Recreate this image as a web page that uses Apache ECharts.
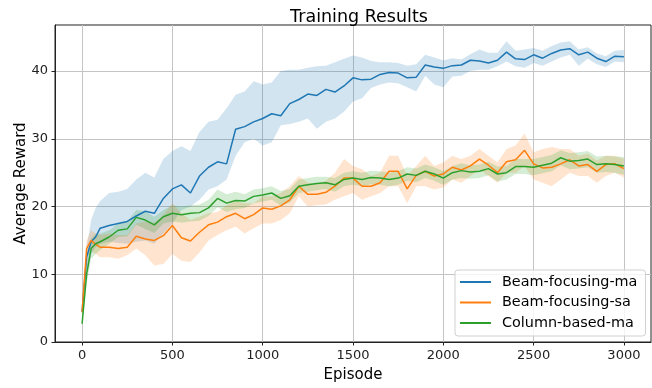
<!DOCTYPE html>
<html>
<head>
<meta charset="utf-8">
<script src="https://cdn.jsdelivr.net/npm/echarts@6/dist/echarts.min.js"></script>
<style>html,body{margin:0;padding:0;background:#fff;}#c{width:652px;height:388px;}</style>
</head>
<body>
<div id="c"></div>
<script>
const episodes = [0,25,50,75,100,150,200,250,300,350,400,450,500,550,600,650,700,750,800,850,900,950,1000,1050,1100,1150,1200,1250,1300,1350,1400,1450,1500,1550,1600,1650,1700,1750,1800,1850,1900,1950,2000,2050,2100,2150,2200,2250,2300,2350,2400,2450,2500,2550,2600,2650,2700,2750,2800,2850,2900,2950,3000];

const beamMaMean = [4.5,12.5,14.8,15.5,16.8,17.2,17.5,17.8,18.6,19.3,19.0,21.2,22.6,23.2,22.0,24.5,25.8,26.6,26.3,31.4,31.8,32.5,33.0,33.7,33.4,35.2,35.8,36.6,36.4,37.3,36.9,37.8,39.0,38.7,38.8,39.5,39.8,39.7,39.0,39.1,40.9,40.6,40.4,40.8,40.9,41.6,41.5,41.2,41.6,42.8,41.8,41.7,42.4,41.9,42.6,43.1,43.3,42.4,42.8,41.9,41.4,42.2,42.1];
const beamMaHigh = [4.8,14.0,18.0,19.8,20.8,22.0,22.2,22.6,24.0,25.0,24.3,27.0,28.2,28.9,28.2,31.0,32.5,32.8,34.5,36.5,37.0,38.5,38.0,38.3,40.0,40.2,40.2,40.5,40.7,40.8,41.3,41.8,42.3,42.0,41.5,41.3,41.3,41.2,40.8,41.0,42.4,42.0,41.6,41.9,41.7,42.5,43.2,42.7,42.7,44.4,43.0,43.2,43.4,43.0,43.7,44.2,44.4,43.2,43.5,42.6,42.2,43.0,43.1];
const beamMaLow = [4.2,10.5,13.0,14.0,14.5,14.8,14.6,14.5,14.8,15.0,14.5,16.0,17.5,19.5,20.0,21.0,22.5,23.0,24.0,27.5,29.5,30.0,29.0,29.5,32.0,32.2,32.5,33.0,31.5,32.5,33.0,34.0,35.5,36.0,37.5,38.0,38.3,38.2,37.6,37.0,39.3,38.0,37.6,39.2,39.3,40.0,40.2,40.2,40.7,41.4,40.7,40.5,41.2,40.8,41.4,42.0,42.4,40.8,41.8,41.0,40.6,41.4,41.3];

const beamSaMean = [4.4,13.8,15.0,14.4,14.0,14.0,13.8,14.0,15.6,15.2,15.0,15.7,17.2,15.4,14.9,16.2,17.3,17.7,18.5,19.0,18.2,18.8,19.8,19.6,20.1,21.0,23.0,21.8,21.8,22.1,23.0,24.2,24.2,23.0,23.0,23.5,25.2,25.2,22.6,24.6,25.2,24.5,24.8,25.8,25.4,26.0,27.0,26.1,25.0,26.6,26.9,28.3,26.3,25.7,25.8,26.3,26.9,26.0,26.2,25.2,26.2,26.3,25.6];
const beamSaHigh = [4.6,15.0,16.5,16.0,15.8,16.0,15.8,15.8,17.5,17.8,17.6,18.8,20.5,19.0,18.0,18.5,19.0,19.2,20.2,20.8,20.5,20.5,21.5,21.5,22.0,23.0,24.5,23.5,23.3,23.8,25.0,27.0,26.0,25.5,24.5,25.0,27.5,27.5,24.5,26.0,27.5,26.0,26.5,27.5,27.0,27.5,28.5,27.5,26.5,28.5,29.0,30.8,28.0,28.5,28.8,28.5,28.5,27.5,27.8,26.8,27.5,27.5,27.0];
const beamSaLow = [4.2,12.5,13.5,13.0,12.5,12.5,12.3,12.8,13.8,12.8,11.3,11.5,13.0,12.0,11.8,13.2,15.0,15.8,16.5,17.0,16.0,16.8,17.5,17.5,18.0,19.0,21.5,20.0,20.2,20.3,21.0,21.5,22.0,21.0,21.5,22.0,23.0,23.0,20.5,23.0,23.0,22.5,22.8,24.0,23.5,24.5,25.5,24.5,23.5,25.0,25.0,26.0,24.0,23.5,23.0,24.0,25.0,24.5,24.5,23.5,24.5,25.0,24.3];

const colMaMean = [2.7,10.0,13.8,14.5,14.8,15.5,16.5,16.7,18.4,18.0,17.3,18.5,19.0,18.8,19.0,19.1,19.8,21.2,20.5,20.9,20.8,21.5,21.7,22.0,21.2,21.6,23.0,23.2,23.4,23.5,23.2,24.0,24.2,24.0,24.3,24.2,24.0,24.2,24.8,24.6,25.2,24.8,24.2,25.0,25.3,25.1,25.2,25.6,24.8,25.0,25.9,25.9,25.8,26.1,26.4,27.2,26.7,26.8,27.0,26.2,26.3,26.2,26.0];
const colMaHigh = [2.9,11.5,15.3,16.0,16.0,16.5,17.5,17.8,19.5,19.3,18.5,19.5,20.2,20.0,20.2,20.3,21.0,22.5,21.8,22.2,21.8,22.5,22.7,23.0,22.3,22.6,24.0,24.2,24.4,24.4,24.2,25.0,25.2,25.0,25.3,25.2,25.0,25.2,25.8,25.6,26.2,25.8,25.2,26.0,26.4,26.1,26.2,26.6,25.9,26.0,27.0,27.0,27.0,27.3,27.6,28.3,27.9,28.0,28.2,27.4,27.5,27.4,27.3];
const colMaLow = [2.5,8.5,12.3,13.0,13.6,14.5,15.5,15.6,17.3,16.7,16.1,17.5,17.8,17.6,17.8,17.9,18.6,19.9,19.2,19.6,19.8,20.5,20.7,21.0,20.1,20.6,22.0,22.2,22.4,22.6,22.2,23.0,23.2,23.0,23.3,23.2,23.0,23.2,23.8,23.6,24.2,23.8,23.2,24.0,24.2,24.1,24.2,24.6,23.7,24.0,24.8,24.8,24.6,24.9,25.2,26.1,25.5,25.6,25.8,25.0,25.1,25.0,24.7];

const seriesNames = ['Beam-focusing-ma', 'Beam-focusing-sa', 'Column-based-ma'];
const xTicks = [0, 500, 1000, 1500, 2000, 2500, 3000];
const yTicks = [0, 10, 20, 30, 40];

const colors = ['#1f77b4', '#ff7f0e', '#2ca02c'];
const bandColors = ['rgba(31,119,180,0.2)', 'rgba(255,127,14,0.2)', 'rgba(44,160,44,0.2)'];
const FONT = 'DejaVu Sans';

function bandSeries(lo, hi, color) {
  return {
    type: 'custom',
    silent: true,
    clip: true,
    z: 1,
    data: episodes.map((e, i) => [e, lo[i], hi[i]]),
    encode: { x: 0, y: [1, 2] },
    renderItem: function (params, api) {
      if (params.dataIndex !== 0) return null;
      const pts = [];
      for (let i = 0; i < episodes.length; i++) pts.push(api.coord([episodes[i], hi[i]]));
      for (let i = episodes.length - 1; i >= 0; i--) pts.push(api.coord([episodes[i], lo[i]]));
      return { type: 'polygon', shape: { points: pts }, style: { fill: color, stroke: null } };
    }
  };
}

function lineSeries(name, vals, color) {
  return {
    name: name,
    type: 'line',
    data: episodes.map((e, i) => [e, vals[i]]),
    symbol: 'none',
    z: 3,
    lineStyle: { color: color, width: 1.5 },
    itemStyle: { color: color },
    animation: false
  };
}

const chart = echarts.init(document.getElementById('c'), null, { renderer: 'canvas' });
chart.setOption({
  animation: false,
  backgroundColor: '#fff',
  title: {
    text: 'Training Results',
    left: 354, top: 3, textAlign: 'center',
    textStyle: { fontFamily: FONT, fontSize: 17.5, fontWeight: 'normal', color: '#000' }
  },
  grid: { left: 55, right: 1, top: 25, bottom: 46, show: true, borderColor: '#222', borderWidth: 1, backgroundColor: 'transparent' },
  legend: {
    data: seriesNames,
    orient: 'vertical',
    left: 455, top: 270,
    padding: [4, 8, 5, 5],
    itemGap: 4.5,
    itemWidth: 31, itemHeight: 2,
    icon: 'rect',
    backgroundColor: 'rgba(255,255,255,0.8)',
    borderColor: '#d0d0d0', borderWidth: 1, borderRadius: 3,
    textStyle: { fontFamily: FONT, fontSize: 14.4, color: '#000', lineHeight: 16, padding: [0, 0, 0, 6] }
  },
  xAxis: {
    type: 'value', min: -150, max: 3150,
    name: 'Episode', nameLocation: 'middle', nameGap: 26,
    nameTextStyle: { fontFamily: FONT, fontSize: 15, color: '#000' },
    axisLine: { show: true, onZero: false, lineStyle: { color: '#222', width: 1 } },
    axisTick: { show: true, inside: false, length: 3.5, customValues: xTicks, lineStyle: { color: '#222' } },
    axisLabel: { customValues: xTicks, margin: 7, fontFamily: FONT, fontSize: 13, color: '#222', formatter: v => String(v) },
    splitLine: { show: true, lineStyle: { color: '#c4c4c4', width: 1 } }
  },
  yAxis: {
    type: 'value', min: 0, max: 46.8,
    name: 'Average Reward', nameLocation: 'middle', nameGap: 26, nameMoveOverlap: false,
    nameTextStyle: { fontFamily: FONT, fontSize: 15, color: '#000' },
    axisLine: { show: true, onZero: false, lineStyle: { color: '#222', width: 1 } },
    axisTick: { show: true, inside: false, length: 3.5, customValues: yTicks, lineStyle: { color: '#222' } },
    axisLabel: { customValues: yTicks, margin: 7, fontFamily: FONT, fontSize: 13, color: '#222', formatter: v => String(v) },
    splitLine: { show: true, lineStyle: { color: '#c4c4c4', width: 1 } }
  },
  series: [
    bandSeries(beamMaLow, beamMaHigh, bandColors[0]),
    bandSeries(beamSaLow, beamSaHigh, bandColors[1]),
    bandSeries(colMaLow, colMaHigh, bandColors[2]),
    lineSeries(seriesNames[0], beamMaMean, colors[0]),
    lineSeries(seriesNames[1], beamSaMean, colors[1]),
    lineSeries(seriesNames[2], colMaMean, colors[2])
  ]
});
</script>
</body>
</html>
